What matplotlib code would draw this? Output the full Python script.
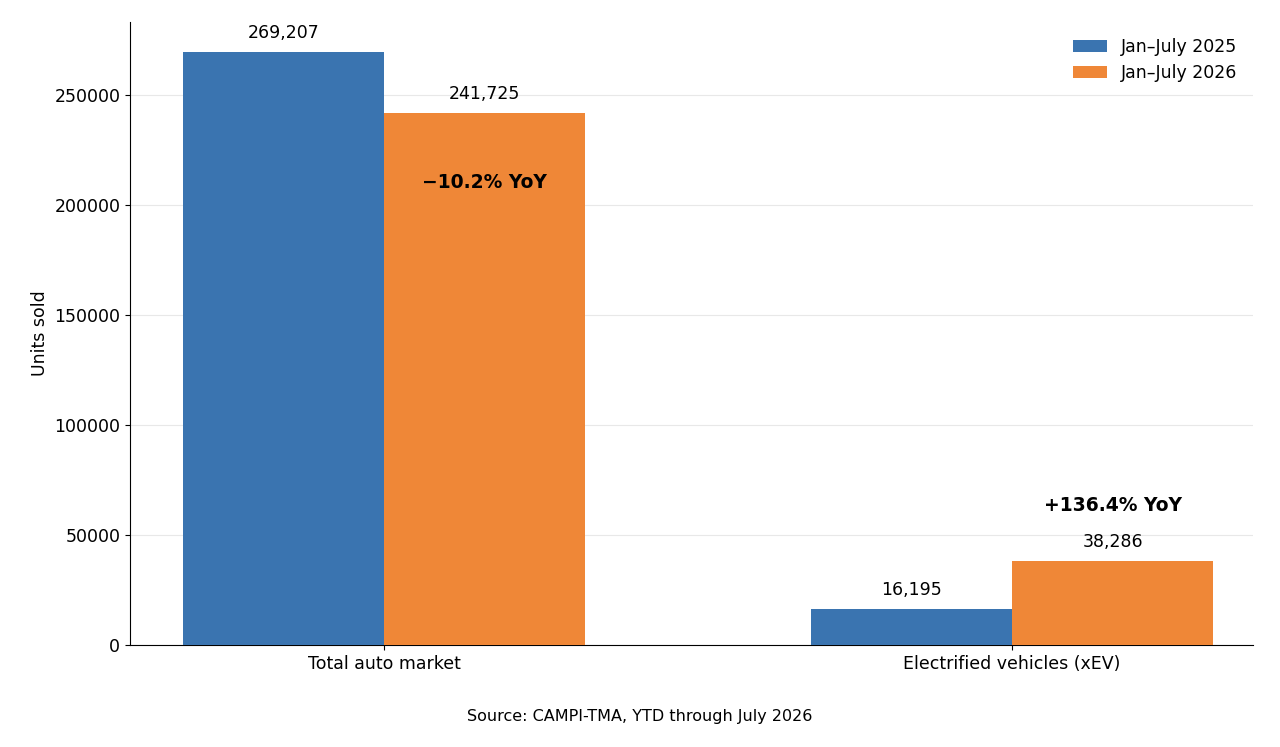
import matplotlib
matplotlib.use("Agg")
import matplotlib.pyplot as plt
import numpy as np

categories = ["Total auto market", "Electrified vehicles (xEV)"]
series_names = ["Jan–July 2025", "Jan–July 2026"]
v2025 = [269207, 16195]
v2026 = [241725, 38286]
yoy = ["−10.2% YoY", "+136.4% YoY"]
yoy_y = [210000, 63500]

fig = plt.figure(figsize=(12.8, 7.47), dpi=100)
ax = fig.add_axes([0.1016, 0.1365, 0.8774, 0.834])
x = np.arange(len(categories))
w = 0.32
b1 = ax.bar(x - w/2, v2025, w, color="#3a74b0", label=series_names[0], zorder=3)
b2 = ax.bar(x + w/2, v2026, w, color="#ef8737", label=series_names[1], zorder=3)
for bars in (b1, b2):
    for r in bars:
        ax.text(r.get_x() + r.get_width()/2, r.get_height() + 4500, f"{int(r.get_height()):,}",
                ha="center", va="bottom", fontsize=12.5)
for i in range(len(categories)):
    ax.text(x[i] + w/2, yoy_y[i], yoy[i], ha="center", va="center", fontsize=13.5, fontweight="bold")
ax.set_xlim(-0.405, 1.384)
ax.set_ylim(0, 283000)
ax.set_xticks(x)
ax.set_xticklabels(categories, fontsize=12.5)
ax.tick_params(axis="y", labelsize=12.5)
ax.set_ylabel("Units sold", fontsize=12.5)
ax.grid(axis="y", color="#e8e8e8", linewidth=0.8, zorder=0)
for s in ("top", "right"):
    ax.spines[s].set_visible(False)
ax.legend(frameon=False, fontsize=12.5, loc="upper right")
fig.text(0.5, 0.035, "Source: CAMPI-TMA, YTD through July 2026", ha="center", fontsize=11.5)
fig.savefig("out.png", dpi=100)
